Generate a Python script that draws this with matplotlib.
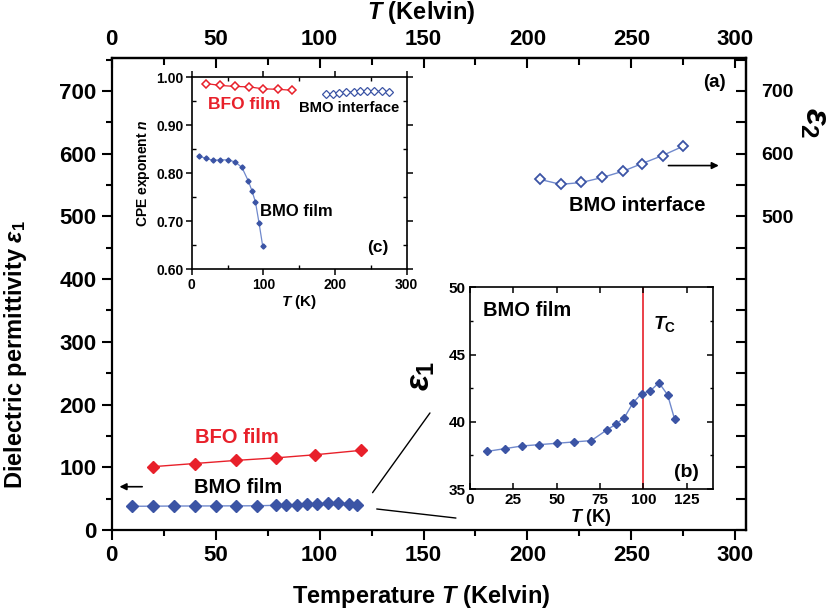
import matplotlib
matplotlib.use('Agg')
import matplotlib.pyplot as plt
from matplotlib.ticker import FuncFormatter, FixedLocator
from matplotlib.patches import ConnectionPatch

plt.rcParams['font.family'] = ['Liberation Sans', 'DejaVu Sans']
plt.rcParams['font.weight'] = 'bold'
plt.rcParams['axes.labelweight'] = 'bold'
plt.rcParams['mathtext.fontset'] = 'custom'
plt.rcParams['mathtext.rm'] = 'Liberation Sans:bold'
plt.rcParams['mathtext.it'] = 'Liberation Sans:italic:bold'
plt.rcParams['mathtext.bf'] = 'Liberation Sans:bold'

RED = '#e8202a'
BLUE = '#3b54a5'
LBLUE = '#7089cc'

# ---- main panel (a) data ----
T_bmo = [10, 20, 30, 40, 50, 60, 70, 79, 84, 89, 94, 99, 104, 109, 114, 118]
eps_bmo = [37.8, 38.0, 38.2, 38.3, 38.4, 38.5, 38.6, 39.4, 39.8, 40.3, 41.4, 42.1, 42.3, 42.9, 42.0, 40.2]
T_bfo = [20, 40, 60, 79, 98, 120]
eps_bfo = [101, 106, 111, 115, 120, 127]
T_int = [206, 216, 226, 236, 246, 255, 265, 275]
eps_int = [559, 551, 554, 562, 572, 584, 597, 612]

# ---- inset (c) data: CPE exponent ----
Tc_bmo = [10, 20, 30, 40, 50, 60, 70, 79, 84, 89, 94, 99]
n_bmo = [0.836, 0.831, 0.827, 0.828, 0.828, 0.824, 0.8125, 0.784, 0.764, 0.740, 0.696, 0.649]
Tc_bfo = [20, 40, 60, 80, 100, 120, 140]
n_bfo = [0.987, 0.983, 0.981, 0.980, 0.976, 0.975, 0.973]
Tc_int = [187, 197, 206, 216, 226, 235, 245, 255, 265, 276]
n_int = [0.965, 0.966, 0.968, 0.969, 0.970, 0.971, 0.971, 0.971, 0.971, 0.970]

T_curie = 100

main_xticks = [0, 50, 100, 150, 200, 250, 300]
main_yticks = [0, 100, 200, 300, 400, 500, 600, 700]
right_labeled = [500, 600, 700]
c_xticks = [0, 100, 200, 300]
c_yticks = [0.60, 0.70, 0.80, 0.90, 1.00]
b_xticks = [0, 25, 50, 75, 100, 125]
b_yticks = [35, 40, 45, 50]

W, H = 837, 609
fig = plt.figure(figsize=(W / 100, H / 100), dpi=100)

def fx(px):
    return px / W

def fy(py):
    return 1 - py / H

# ================= main axes =================
ax = fig.add_axes([fx(111.7), fy(530), fx(745.7) - fx(111.7), fy(58.3) - fy(530)])
ax.set_xlim(0, 305)
ax.set_ylim(0, 752)
for s in ax.spines.values():
    s.set_linewidth(1.6)

ax.plot(T_bfo, eps_bfo, '-', color=RED, lw=1.0, marker='D', ms=6.5, mfc=RED, mec=RED, zorder=3)
ax.plot(T_bmo, eps_bmo, '-', color=LBLUE, lw=1.0, marker='D', ms=6.5, mfc=BLUE, mec=BLUE, zorder=3)
ax.plot(T_int, eps_int, '-', color=LBLUE, lw=1.0, marker='D', ms=5.3, mfc='white', mec=BLUE, mew=1.3, zorder=3)

ax.set_xticks(main_xticks, labels=[str(v) for v in main_xticks], fontsize=16, fontweight='bold')
ax.set_yticks(main_yticks, labels=[str(v) for v in main_yticks], fontsize=16, fontweight='bold')
ax.xaxis.set_minor_locator(FixedLocator([25, 75, 125, 175, 225, 275]))
ax.yaxis.set_minor_locator(FixedLocator([50, 150, 250, 350, 450, 550, 650, 750]))
ax.tick_params(axis='both', which='major', direction='out', length=7, width=1.5, pad=4)
ax.tick_params(axis='both', which='minor', direction='out', length=4, width=1.5)
ax.tick_params(top=False, right=False)

top = ax.secondary_xaxis('top')
top.set_xticks(main_xticks, labels=[str(v) for v in main_xticks], fontsize=16, fontweight='bold')
top.xaxis.set_minor_locator(FixedLocator([25, 75, 125, 175, 225, 275]))
top.tick_params(which='major', direction='in', length=7, width=1.5, pad=6)
top.tick_params(which='minor', direction='in', length=5, width=1.5)
top.spines['top'].set_linewidth(1.6)

right = ax.secondary_yaxis('right')
right.set_yticks(main_yticks, labels=[str(v) if v in right_labeled else '' for v in main_yticks],
                 fontsize=14, fontweight='bold')
right.yaxis.set_minor_locator(FixedLocator([50, 150, 250, 350, 450, 550, 650, 750]))
right.tick_params(which='major', direction='in', length=7, width=1.5, pad=11)
right.tick_params(which='minor', direction='in', length=7, width=1.5)
right.spines['right'].set_linewidth(1.6)

fig.text(fx(421.5), fy(596), 'Temperature $T$ (Kelvin)', fontsize=17, ha='center', va='center')
fig.text(fx(421.5), fy(13), '$T$ (Kelvin)', fontsize=17, ha='center', va='center')
fig.text(fx(16), fy(355), r'Dielectric permittivity $\varepsilon_1$', fontsize=17, rotation=90,
         ha='center', va='center')
fig.text(fx(815), fy(123), r'$\varepsilon_2$', fontsize=25, rotation=-90, ha='center', va='center')

ax.text(40, 148, 'BFO film', color=RED, fontsize=14.5, va='center', ha='left')
ax.text(39.5, 67, 'BMO film', color='black', fontsize=14.5, va='center', ha='left')
ax.text(220, 517, 'BMO interface', color='black', fontsize=14.5, va='center', ha='left')
ax.text(290, 714, '(a)', fontsize=13.5, ha='center', va='center')

ax.annotate('', xy=(2.4, 69), xytext=(16, 69),
            arrowprops=dict(arrowstyle='-|>', color='black', lw=1.2, mutation_scale=10))
ax.annotate('', xy=(293.4, 581), xytext=(266.5, 581),
            arrowprops=dict(arrowstyle='-|>', color='black', lw=1.2, mutation_scale=10))

# ================= inset (c) =================
axc = fig.add_axes([fx(191.7), fy(269.3), fx(406.7) - fx(191.7), fy(77.3) - fy(269.3)])
axc.set_xlim(0, 300)
axc.set_ylim(0.60, 1.00)
for s in axc.spines.values():
    s.set_linewidth(1.2)
axc.plot(Tc_bfo, n_bfo, '-', color=RED, lw=0.9, marker='D', ms=4.0, mfc='white', mec=RED, mew=1.1)
axc.plot(Tc_bmo, n_bmo, '-', color=LBLUE, lw=0.9, marker='D', ms=2.6, mfc=BLUE, mec=BLUE)
axc.plot(Tc_int, n_int, '-', color=LBLUE, lw=0.9, marker='D', ms=4.0, mfc='white', mec=BLUE, mew=0.9)
axc.set_xticks(c_xticks, labels=[str(v) for v in c_xticks], fontsize=10, fontweight='bold')
axc.set_yticks(c_yticks, labels=[f'{v:.2f}' for v in c_yticks], fontsize=10, fontweight='bold')
axc.xaxis.set_minor_locator(FixedLocator([50, 150, 250]))
axc.yaxis.set_minor_locator(FixedLocator([0.65, 0.75, 0.85, 0.95]))
axc.tick_params(which='major', direction='out', length=4, width=1.1, pad=2, top=True, right=True)
axc.tick_params(which='minor', direction='in', length=3, width=1.0, top=True, right=True)
axc.set_xlabel('$T$ (K)', fontsize=11, labelpad=1)
axc.set_ylabel('CPE exponent $n$', fontsize=10, labelpad=3)
axc.text(23, 0.944, 'BFO film', color=RED, fontsize=12.5, va='center', ha='left')
axc.text(150, 0.937, 'BMO interface', color='black', fontsize=10.7, va='center', ha='left')
axc.text(95, 0.72, 'BMO film', color='black', fontsize=12, va='center', ha='left')
axc.text(259, 0.646, '(c)', fontsize=12.5, va='center', ha='center')

# ================= inset (b) =================
axb = fig.add_axes([fx(470), fy(489), fx(712.7) - fx(470), fy(287.3) - fy(489)])
axb.set_xlim(0, 140)
axb.set_ylim(35, 50)
for s in axb.spines.values():
    s.set_linewidth(1.2)
axb.axvline(T_curie, color=RED, lw=1.2, zorder=1)
axb.plot(T_bmo, eps_bmo, '-', color=LBLUE, lw=1.0, marker='D', ms=3.6, mfc=BLUE, mec=BLUE, zorder=3)
axb.set_xticks(b_xticks, labels=[str(v) for v in b_xticks], fontsize=11, fontweight='bold')
axb.set_yticks(b_yticks, labels=[str(v) for v in b_yticks], fontsize=11, fontweight='bold')
axb.yaxis.set_minor_locator(FixedLocator([37.5, 42.5, 47.5]))
axb.tick_params(which='major', direction='in', length=4, width=1.1, pad=3, top=True, right=True)
axb.tick_params(which='minor', direction='in', length=2.5, width=1.0, top=True, right=True)
axb.set_xlabel('$T$ (K)', fontsize=13, labelpad=0)
axb.set_ylabel(r'$\varepsilon_1$', fontsize=24, labelpad=2)
axb.yaxis.set_label_coords(-0.135, 0.56)
axb.text(7.6, 48.26, 'BMO film', fontsize=14.5, va='center', ha='left')
axb.text(105.7, 47.3, r'$T_\mathrm{C}$', fontsize=14, va='center', ha='left')
axb.text(124.7, 36.2, '(b)', fontsize=14, va='center', ha='center')

# connector lines from main data to inset (b)
for xyA, xyB in [((125.5, 59.5), (-0.165, 0.377)), ((127.5, 33.5), (-0.058, -0.144))]:
    con = ConnectionPatch(xyA=xyA, coordsA=ax.transData, xyB=xyB, coordsB=axb.transAxes,
                          color='black', lw=1.0)
    fig.add_artist(con)

fig.savefig('out.png', dpi=100)
